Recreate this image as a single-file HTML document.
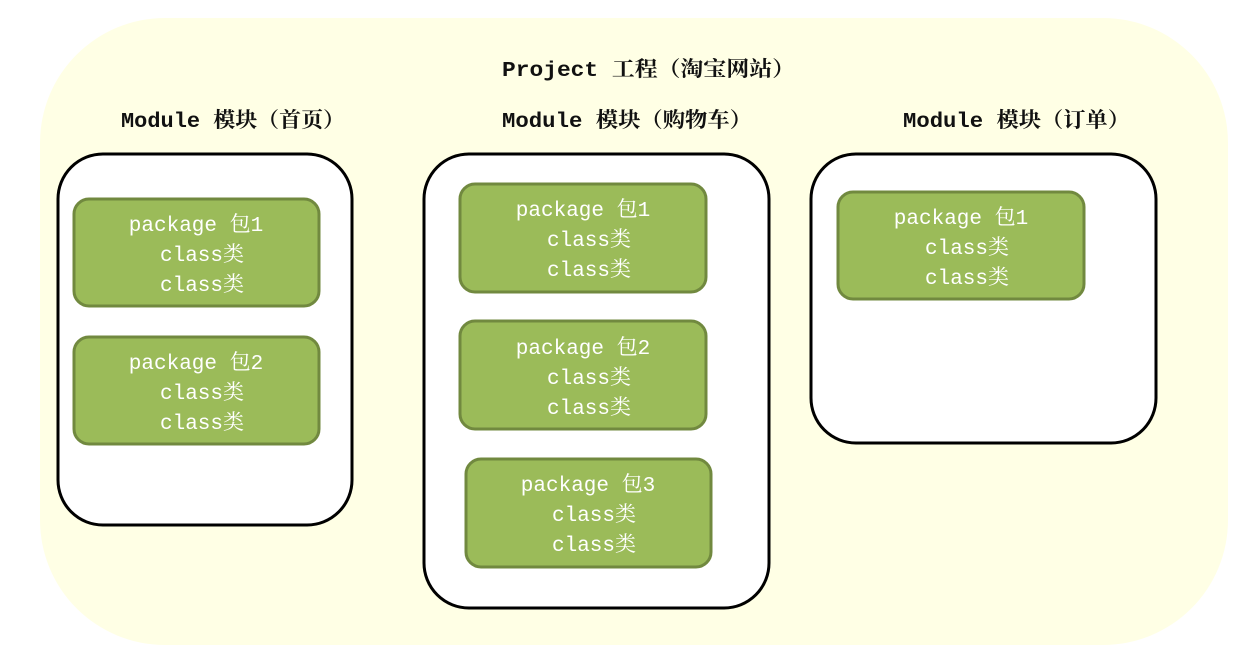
<!DOCTYPE html>
<html><head><meta charset="utf-8"><style>
html,body{margin:0;padding:0;background:#fff;width:1247px;height:651px;overflow:hidden}
text{font-family:"Liberation Mono","Noto Serif CJK SC",monospace;}
.h{font-size:21px;fill:#111;font-weight:bold}
.p{font-size:21px;fill:#fff}
</style></head><body>
<svg width="1247" height="651" viewBox="0 0 1247 651" xmlns="http://www.w3.org/2000/svg">
<rect x="40" y="18" width="1188" height="627" rx="125" fill="#FFFFE5"/>
<text class="h" x="502" y="76" textLength="293" lengthAdjust="spacingAndGlyphs">Project 工程（淘宝网站）</text>
<text class="h" x="121" y="127" textLength="224" lengthAdjust="spacingAndGlyphs">Module 模块（首页）</text>
<text class="h" x="502" y="127" textLength="250" lengthAdjust="spacingAndGlyphs">Module 模块（购物车）</text>
<text class="h" x="903" y="127" textLength="227" lengthAdjust="spacingAndGlyphs">Module 模块（订单）</text>
<g fill="#fff" stroke="#000" stroke-width="3">
<rect x="58" y="154" width="294" height="371" rx="45"/>
<rect x="424" y="154" width="345" height="454" rx="45"/>
<rect x="811" y="154" width="345" height="289" rx="45"/>
</g>
<g fill="#9BBB59" stroke="#71893F" stroke-width="3">
<rect x="74" y="199" width="245" height="107" rx="15"/>
<rect x="74" y="337" width="245" height="107" rx="15"/>
<rect x="460" y="184" width="246" height="108" rx="15"/>
<rect x="460" y="321" width="246" height="108" rx="15"/>
<rect x="466" y="459" width="245" height="108" rx="15"/>
<rect x="838" y="192" width="246" height="107" rx="15"/>
</g>
<g class="p" text-anchor="middle">
<text class="p" x="196" y="231">package 包1</text><text class="p" x="202" y="261">class类</text><text class="p" x="202" y="291">class类</text>
<text class="p" x="196" y="369">package 包2</text><text class="p" x="202" y="399">class类</text><text class="p" x="202" y="429">class类</text>
<text class="p" x="583" y="216">package 包1</text><text class="p" x="589" y="246">class类</text><text class="p" x="589" y="276">class类</text>
<text class="p" x="583" y="354">package 包2</text><text class="p" x="589" y="384">class类</text><text class="p" x="589" y="414">class类</text>
<text class="p" x="588" y="491">package 包3</text><text class="p" x="594" y="521">class类</text><text class="p" x="594" y="551">class类</text>
<text class="p" x="961" y="224">package 包1</text><text class="p" x="967" y="254">class类</text><text class="p" x="967" y="284">class类</text>
</g>
</svg>
</body></html>
